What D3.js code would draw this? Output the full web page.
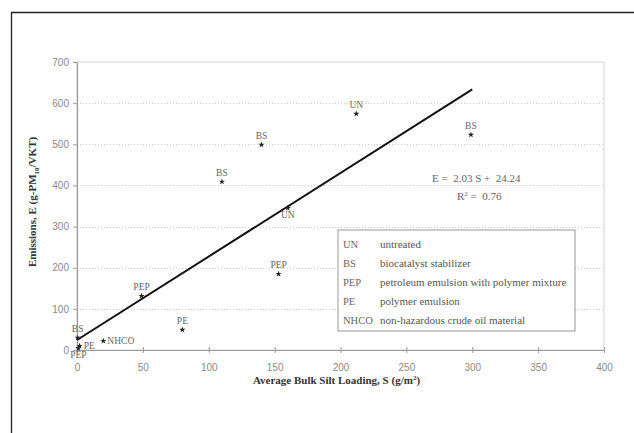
<!DOCTYPE html>
<html>
<head>
<meta charset="utf-8">
<script src="https://cdn.jsdelivr.net/npm/d3@7"></script>
<style>
  body { margin: 0; background: #fff; }
  svg { display: block; }
</style>
</head>
<body>
<div id="chart"></div>
<script>
// data
const codes = ['UN', 'BS', 'BS', 'BS', 'UN', 'PEP', 'PEP', 'PE', 'NHCO', 'BS', 'PE', 'PEP'];
const siltLoading = [212, 299, 140, 110, 160, 153, 49, 80, 20, 0.5, 2, 1];
const emissions = [574, 523, 499, 409, 345, 185, 131, 49, 22, 30, 10, 4];
// where each label sits relative to its point
const labelPos = ['above', 'above', 'above', 'above', 'below', 'above', 'above', 'above', 'right', 'above', 'right', 'below'];

const legendCodes = ['UN', 'BS', 'PEP', 'PE', 'NHCO'];
const legendNames = ['untreated', 'biocatalyst stabilizer', 'petroleum emulsion with polymer mixture', 'polymer emulsion', 'non-hazardous crude oil material'];

const slope = 2.03;
const intercept = 24.24;
const rSquared = 0.76;
const fitRange = [0, 300];

const xTicks = [0, 50, 100, 150, 200, 250, 300, 350, 400];
const yTicks = [0, 100, 200, 300, 400, 500, 600, 700];

const W = 634, H = 433;
const margin = { top: 62, right: 30, bottom: 83, left: 77 };
const width = W - margin.left - margin.right;
const height = H - margin.top - margin.bottom;

const svg = d3.select('#chart').append('svg')
  .attr('width', W)
  .attr('height', H);

// outer frame (only left and top edges visible)
svg.append('path')
  .attr('d', 'M11.5,' + H + ' V12.5 H' + W)
  .attr('fill', 'none')
  .attr('stroke', '#222')
  .attr('stroke-width', 1.3);

const g = svg.append('g')
  .attr('transform', 'translate(' + margin.left + ',' + margin.top + ')');

const xScale = d3.scaleLinear().domain([0, 400]).range([0, width]);
const yScale = d3.scaleLinear().domain([0, 700]).range([height, 0]);

// plot area border
g.append('rect')
  .attr('x', 0).attr('y', 0)
  .attr('width', width).attr('height', height)
  .attr('fill', 'none')
  .attr('stroke', '#d4d4d4');

// dotted gridlines
g.selectAll('.grid').data(yTicks.filter(d => d > 0 && d < 700))
  .enter().append('line')
  .attr('class', 'grid')
  .attr('x1', 0).attr('x2', width)
  .attr('y1', d => Math.round(yScale(d)) + 0.5)
  .attr('y2', d => Math.round(yScale(d)) + 0.5)
  .attr('stroke', '#d0d0d0')
  .attr('stroke-dasharray', '1,2');

const xAxis = d3.axisBottom(xScale).tickValues(xTicks).tickSize(4).tickSizeOuter(0).tickPadding(10);
const yAxis = d3.axisLeft(yScale).tickValues(yTicks).tickSize(4).tickSizeOuter(0).tickPadding(4);

const xg = g.append('g')
  .attr('transform', 'translate(0,' + height + ')')
  .call(xAxis);
// ticks straddle the axis line
xg.selectAll('.tick line').attr('y1', -3).attr('y2', 3);

const yg = g.append('g').call(yAxis);

[xg, yg].forEach(ax => {
  ax.select('.domain').attr('stroke', '#9a9a9a').attr('stroke-width', 1.2);
  ax.selectAll('.tick line').attr('stroke', '#9a9a9a');
  ax.selectAll('.tick text')
    .attr('fill', '#8a8a8a')
    .style('font-family', '"Liberation Sans", Arial, sans-serif')
    .style('font-size', '10px');
});

// regression line
const line = d3.line().x(d => xScale(d)).y(d => yScale(slope * d + intercept));
g.append('path')
  .datum(fitRange)
  .attr('d', line)
  .attr('fill', 'none')
  .attr('stroke', '#111')
  .attr('stroke-width', 2);

// points
const pts = codes.map((c, i) => ({ code: c, x: siltLoading[i], y: emissions[i], pos: labelPos[i] }));
const star = d3.symbol().type(d3.symbolStar).size(12);

g.selectAll('.pt').data(pts).enter().append('path')
  .attr('class', 'pt')
  .attr('transform', d => 'translate(' + xScale(d.x) + ',' + yScale(d.y) + ')')
  .attr('d', star)
  .attr('fill', '#222');

const serif = '"Liberation Serif", "Times New Roman", serif';

g.selectAll('.lbl').data(pts).enter().append('text')
  .attr('class', 'lbl')
  .attr('x', d => xScale(d.x) + (d.pos === 'right' ? 4 : 0))
  .attr('y', d => yScale(d.y) + (d.pos === 'above' ? -6 : d.pos === 'below' ? 10 : 3))
  .attr('text-anchor', d => d.pos === 'right' ? 'start' : 'middle')
  .attr('fill', '#666')
  .style('font-family', serif)
  .style('font-size', '9.5px')
  .text(d => d.code);

// equation
const eq = g.append('text')
  .attr('x', 355).attr('y', 120)
  .attr('fill', '#666')
  .style('font-family', serif)
  .style('font-size', '11px')
  .attr('xml:space', 'preserve');
eq.text('E =  ' + slope.toFixed(2) + ' S +  ' + intercept.toFixed(2));

const r2 = g.append('text')
  .attr('x', 380).attr('y', 138)
  .attr('fill', '#666')
  .style('font-family', serif)
  .style('font-size', '11px')
  .attr('xml:space', 'preserve');
r2.append('tspan').text('R');
r2.append('tspan').attr('dy', -4).style('font-size', '7px').text('2');
r2.append('tspan').attr('dy', 4).text(' =  ' + rSquared.toFixed(2));

// legend
const legend = g.append('g').attr('transform', 'translate(261,168)');
legend.append('rect')
  .attr('width', 237).attr('height', 101)
  .attr('fill', '#fff')
  .attr('stroke', '#999');

legend.selectAll('.lc').data(legendCodes).enter().append('text')
  .attr('x', 5).attr('y', (d, i) => 18 + i * 19)
  .attr('fill', '#666')
  .style('font-family', serif)
  .style('font-size', '10.5px')
  .text(d => d);

legend.selectAll('.ln').data(legendNames).enter().append('text')
  .attr('x', 42).attr('y', (d, i) => 18 + i * 19)
  .attr('fill', '#555')
  .style('font-family', serif)
  .style('font-size', '11px')
  .text(d => d);

// axis titles
const xt = svg.append('text')
  .attr('x', margin.left + width / 2 - 4)
  .attr('y', 384)
  .attr('text-anchor', 'middle')
  .attr('fill', '#333')
  .style('font-family', serif)
  .style('font-weight', 'bold')
  .style('font-size', '11px');
xt.append('tspan').text('Average Bulk Silt Loading, S (g/m');
xt.append('tspan').attr('dy', -4).style('font-size', '7px').text('2');
xt.append('tspan').attr('dy', 4).text(')');

const yt = svg.append('text')
  .attr('transform', 'translate(36,' + (margin.top + height / 2 - 4) + ') rotate(-90)')
  .attr('text-anchor', 'middle')
  .attr('fill', '#333')
  .style('font-family', serif)
  .style('font-weight', 'bold')
  .style('font-size', '11px');
yt.append('tspan').text('Emissions, E (g-PM');
yt.append('tspan').attr('dy', 3).style('font-size', '7px').text('10');
yt.append('tspan').attr('dy', -3).text('/VKT)');
</script>
</body>
</html>
